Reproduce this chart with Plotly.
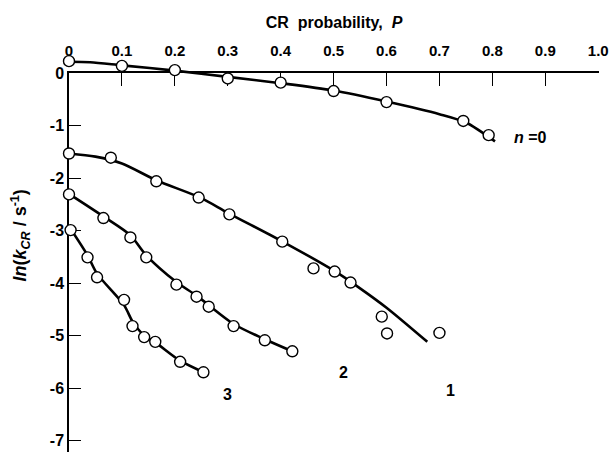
import plotly.graph_objects as go

# ---- data ----
p_n0 = [0.00, 0.10, 0.20, 0.30, 0.40, 0.50, 0.60, 0.745, 0.793]
k_n0 = [0.23, 0.14, 0.06, -0.10, -0.18, -0.34, -0.55, -0.91, -1.18]
fit_p_n0 = [0.00, 0.04, 0.10, 0.20, 0.30, 0.40, 0.50, 0.60, 0.70, 0.75, 0.805]
fit_k_n0 = [0.22, 0.21, 0.15, 0.05, -0.07, -0.19, -0.33, -0.54, -0.78, -0.94, -1.30]

p_n1 = [0.00, 0.079, 0.165, 0.245, 0.303, 0.403, 0.462, 0.502, 0.532, 0.591, 0.601, 0.70]
k_n1 = [-1.53, -1.61, -2.06, -2.37, -2.69, -3.21, -3.72, -3.78, -3.99, -4.64, -4.96, -4.95]
fit_p_n1 = [0.00, 0.05, 0.10, 0.165, 0.25, 0.30, 0.40, 0.50, 0.55, 0.60, 0.677]
fit_k_n1 = [-1.53, -1.59, -1.72, -2.04, -2.38, -2.66, -3.19, -3.76, -4.10, -4.47, -5.12]

p_n2 = [0.00, 0.065, 0.116, 0.146, 0.203, 0.241, 0.264, 0.311, 0.370, 0.422]
k_n2 = [-2.31, -2.76, -3.13, -3.51, -4.03, -4.26, -4.45, -4.82, -5.09, -5.30]
fit_p_n2 = [0.00, 0.065, 0.116, 0.146, 0.203, 0.241, 0.311, 0.370, 0.422]
fit_k_n2 = [-2.30, -2.73, -3.09, -3.47, -3.98, -4.24, -4.78, -5.07, -5.30]

p_n3 = [0.003, 0.035, 0.053, 0.104, 0.120, 0.142, 0.163, 0.210, 0.254]
k_n3 = [-2.99, -3.51, -3.89, -4.32, -4.82, -5.03, -5.12, -5.50, -5.70]
fit_p_n3 = [0.00, 0.035, 0.053, 0.104, 0.120, 0.142, 0.163, 0.210, 0.254]
fit_k_n3 = [-2.92, -3.47, -3.82, -4.42, -4.73, -5.00, -5.13, -5.48, -5.70]

x_ticks = [0, 0.1, 0.2, 0.3, 0.4, 0.5, 0.6, 0.7, 0.8, 0.9, 1.0]
x_tick_text = ["0", "0.1", "0.2", "0.3", "0.4", "0.5", "0.6", "0.7", "0.8", "0.9", "1.0"]
y_ticks = [0, -1, -2, -3, -4, -5, -6, -7]
y_tick_text = ["0", "-1", "-2", "-3", "-4", "-5", "-6", "-7"]

labels = ["<i>n</i> =0", "1", "2", "3"]
label_p = [0.872, 0.72, 0.519, 0.30]
label_k = [-1.22, -6.04, -5.70, -6.13]

# ---- figure ----
FONT = "Liberation Sans"
x_range = [0.0, 1.0015]
y_range = [-7.22, 0.0]        # visible axis (top edge is the P axis at ln k = 0)
y_data_range = [-7.22, 0.50]  # data layer, same scale, extended upward so nothing is clipped

fig = go.Figure()
# empty trace so the visible axis pair (x/y) is drawn underneath the data layer
fig.add_trace(go.Scatter(x=[], y=[], xaxis="x", yaxis="y", mode="markers",
                         showlegend=False, hoverinfo="skip"))
fits = [(fit_p_n0, fit_k_n0), (fit_p_n1, fit_k_n1), (fit_p_n2, fit_k_n2), (fit_p_n3, fit_k_n3)]
pts = [(p_n0, k_n0), (p_n1, k_n1), (p_n2, k_n2), (p_n3, k_n3)]
for fx, fy in fits:
    fig.add_trace(go.Scatter(x=fx, y=fy, xaxis="x2", yaxis="y2", mode="lines",
                             line=dict(color="black", width=2.6, shape="spline", smoothing=0.8),
                             showlegend=False, hoverinfo="skip"))
for px, py in pts:
    fig.add_trace(go.Scatter(x=px, y=py, xaxis="x2", yaxis="y2", mode="markers", cliponaxis=False,
                             marker=dict(symbol="circle", size=11, color="white", line=dict(color="black", width=1.4)),
                             showlegend=False))

for t, xx, yy in zip(labels, label_p, label_k):
    fig.add_annotation(x=xx, y=yy, text=t, showarrow=False, xref="x2", yref="y2",
                       font=dict(family=FONT, size=16, color="black", weight="bold"))

fig.add_annotation(xref="paper", yref="paper", x=-0.092, y=0.535, textangle=-90, showarrow=False,
                   xanchor="center", yanchor="middle",
                   text="<i>ln</i>(<i>k</i><sub><i>CR</i></sub> / s<sup>-1</sup>)",
                   font=dict(family=FONT, size=18, color="black", weight="bold"))

top_frac = (y_range[1] - y_data_range[0]) / (y_data_range[1] - y_data_range[0])

fig.update_layout(
    width=609, height=452,
    margin=dict(l=69, r=8, t=47, b=0),
    paper_bgcolor="white", plot_bgcolor="rgba(0,0,0,0)",
    xaxis2=dict(range=x_range, domain=[0, 1], anchor="y2", visible=False, showgrid=False, zeroline=False),
    yaxis2=dict(range=y_data_range, domain=[0, 1], anchor="x2", visible=False, showgrid=False, zeroline=False),
    xaxis=dict(range=x_range, domain=[0, 1], side="top", anchor="y",
               tickvals=x_ticks, ticktext=x_tick_text, ticks="inside", ticklen=13, tickwidth=1.3,
               tickcolor="black", showline=True, linecolor="black", linewidth=1.5,
               showgrid=False, zeroline=False, ticklabeloverflow="allow", ticklabelstandoff=9,
               tickfont=dict(family=FONT, size=15, color="black", weight="bold"),
               title=dict(text="CR  probability,  <i>P</i>", standoff=10,
                          font=dict(family=FONT, size=16, color="black", weight="bold"))),
    yaxis=dict(range=y_range, domain=[0, top_frac], anchor="x", tickvals=y_ticks, ticktext=y_tick_text,
               ticks="inside", ticklen=12, tickwidth=1.3, tickcolor="black",
               showline=True, linecolor="black", linewidth=1.5, showgrid=False, zeroline=False,
               tickfont=dict(family=FONT, size=16, color="black", weight="bold")),
)

fig.write_html("out.html")
